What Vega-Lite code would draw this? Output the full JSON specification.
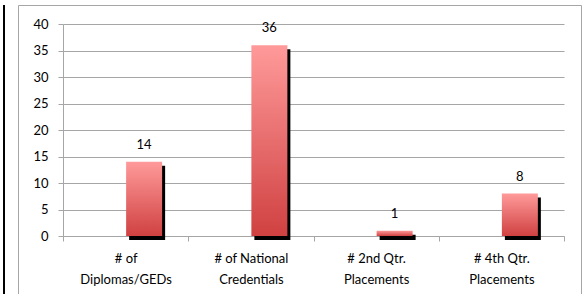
{
  "$schema": "https://vega.github.io/schema/vega-lite/v6.json",
  "background": "white",
  "padding": {"left": 3, "top": 4, "right": 4, "bottom": 0},
  "spacing": 12,
  "hconcat": [
    {
      "width": 2,
      "height": 290,
      "view": {"fill": "black", "stroke": null},
      "data": {"values": []},
      "mark": "rect"
    },
    {
      "width": 563,
      "height": 290,
      "view": {"stroke": "#A6A6A6", "strokeWidth": 1},
      "data": {
        "values": [
          {"category": "# of Diplomas/GEDs", "value": 14},
          {"category": "# of National Credentials", "value": 36},
          {"category": "# 2nd Qtr. Placements", "value": 1},
          {"category": "# 4th Qtr. Placements", "value": 8}
        ]
      },
      "encoding": {
        "x": {
          "field": "category",
          "type": "nominal",
          "sort": null,
          "scale": {"range": [45, 546], "paddingInner": 0, "paddingOuter": 0},
          "axis": {
            "title": null,
            "labelAngle": 0,
            "tickBand": "extent",
            "tickSize": 5,
            "labelPadding": 11,
            "labelBaseline": "top",
            "labelLineHeight": 21,
            "labelExpr": "[substring(datum.label, 0, lastindexof(datum.label, ' ')), substring(datum.label, lastindexof(datum.label, ' ') + 1)]",
            "offset": -59,
            "domainColor": "#A6A6A6",
            "tickColor": "#A6A6A6",
            "labelFont": "Lato",
            "labelFontSize": 13,
            "labelColor": "black",
            "grid": false
          }
        },
        "y": {
          "field": "value",
          "type": "quantitative",
          "scale": {"domain": [0, 40], "range": [231, 19], "nice": false},
          "axis": {
            "title": null,
            "values": [0, 5, 10, 15, 20, 25, 30, 35, 40],
            "grid": true,
            "gridColor": "#A6A6A6",
            "domainColor": "#A6A6A6",
            "tickColor": "#A6A6A6",
            "tickSize": 5,
            "labelPadding": 10,
            "labelFont": "Lato",
            "labelFontSize": 13,
            "labelColor": "black",
            "offset": -45
          }
        }
      },
      "layer": [
        {
          "mark": {"type": "bar", "color": "black", "width": {"band": 0.2874}, "xOffset": 21.5, "yOffset": 4, "y2Offset": 1}
        },
        {
          "mark": {
            "type": "bar",
            "width": {"band": 0.2874},
            "xOffset": 18.5,
            "color": {
              "gradient": "linear",
              "x1": 0, "y1": 0, "x2": 0, "y2": 1,
              "stops": [
                {"offset": 0, "color": "#FF9A9A"},
                {"offset": 1, "color": "#D04141"}
              ]
            }
          }
        },
        {
          "mark": {"type": "text", "xOffset": 18.5, "dy": -13, "baseline": "alphabetic", "font": "Lato", "fontSize": 13, "color": "black"},
          "encoding": {"text": {"field": "value", "type": "quantitative"}}
        }
      ]
    }
  ]
}
